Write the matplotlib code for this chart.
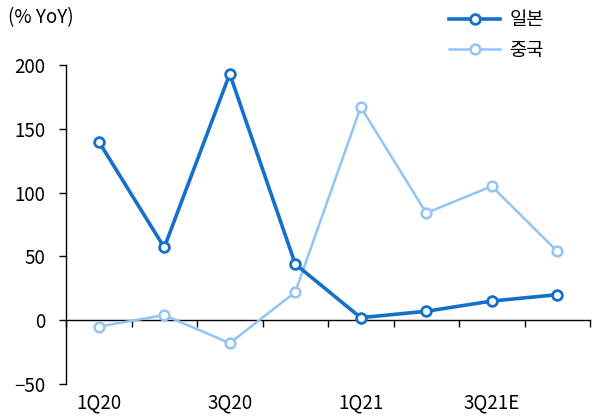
import matplotlib
matplotlib.use("Agg")
import matplotlib.pyplot as plt
import numpy as np

plt.rcParams['font.family'] = ['Noto Sans CJK KR', 'DejaVu Sans']

# quarterly growth, % YoY
quarters = ["1Q20", "2Q20", "3Q20", "4Q20", "1Q21", "2Q21", "3Q21E", "4Q21E"]
japan = [140, 57, 193, 44, 2, 7, 15, 20]
china = [-5, 4, -18, 22, 167, 84, 105, 54]
shown_labels = ["1Q20", "", "3Q20", "", "1Q21", "", "3Q21E", ""]

dark_blue = "#1470c8"
light_blue = "#91c5f7"

fig = plt.figure(figsize=(5.92, 4.17), dpi=100)
ax = fig.add_axes([66/592, 33/417, 524/592, 319/417])

x = np.arange(len(quarters))
ax.plot(x, china, color=light_blue, lw=1.8, marker="o", ms=7,
        mfc="white", mec=light_blue, mew=1.8, label="중국", zorder=3)
ax.plot(x, japan, color=dark_blue, lw=2.6, marker="o", ms=7,
        mfc="white", mec=dark_blue, mew=2.0, label="일본", zorder=4)

ax.set_xlim(-0.5, len(quarters) - 0.5)
ax.set_ylim(-50, 200)
ax.set_yticks([-50, 0, 50, 100, 150, 200])
ax.tick_params(axis="y", direction="out", length=5, width=1, labelsize=13.5, pad=10)

for s in ["top", "right"]:
    ax.spines[s].set_visible(False)
ax.spines["left"].set_linewidth(1)
ax.spines["bottom"].set_position(("data", 0))
ax.spines["bottom"].set_linewidth(1)

# tick marks between quarters on the zero line
ax.set_xticks(np.arange(len(quarters) + 1) - 0.5)
ax.set_xticklabels([])
ax.tick_params(axis="x", direction="out", length=5, width=1)

# quarter labels under the plot
sec = ax.secondary_xaxis(0)
sec.set_xticks(x)
sec.set_xticklabels(shown_labels)
sec.spines["bottom"].set_visible(False)
sec.tick_params(length=0, labelsize=13.5, pad=6)

fig.text(8/592, 1 - 18/417, "(% YoY)", fontsize=13.5, va="center", ha="left")

handles, labels = ax.get_legend_handles_labels()
leg = fig.legend(handles[::-1], labels[::-1], loc="upper right",
                 bbox_to_anchor=(555/592, 1.005), frameon=False, fontsize=13.5,
                 handlelength=2.7, handletextpad=0.5, labelspacing=0.5,
                 borderaxespad=0.2)

fig.savefig("out.png", dpi=100)
